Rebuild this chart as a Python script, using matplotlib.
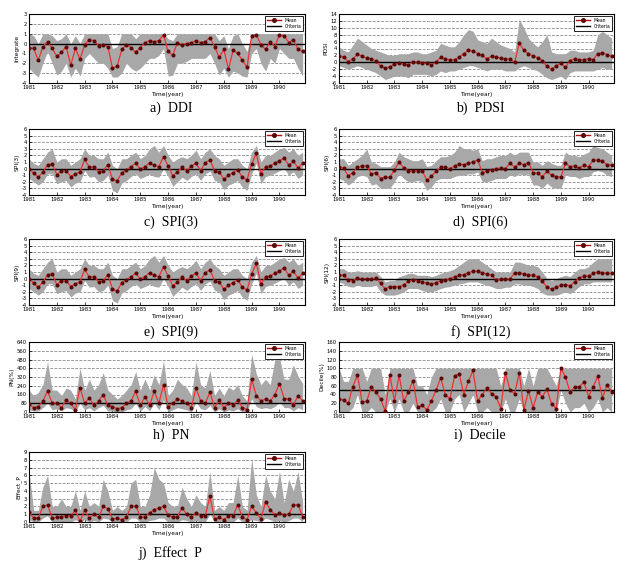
import numpy as np
import matplotlib
matplotlib.use("Agg")
import matplotlib.pyplot as plt
from matplotlib.lines import Line2D

plt.rcParams['font.family'] = 'DejaVu Sans'
plt.rcParams['axes.linewidth'] = 0.8

# bimonthly time stamps, Jan 1981 .. Nov 1990
years = 1981 + np.arange(60) / 6.0
year_ticks = list(range(1981, 1991))

# ---- a) DDI ----
ddi_mean = [-0.4, -0.5, -1.7, -0.3, 0.2, -0.5,
            -1.3, -0.9, -0.3, -2.2, -0.5, -1.6,
            -0.1, 0.4, 0.3, -0.2, -0.1, -0.3,
            -2.5, -2.3, -0.6, -0.1, -0.4, -0.9,
            -0.4, 0.1, 0.3, 0.2, 0.3, 0.9,
            -0.8, -1.2, 0.1, -0.1, 0.0, 0.1,
            0.3, 0.1, 0.2, 0.6, -0.3, -1.4,
            -0.6, -2.6, -0.7, -1.0, -1.7, -2.4,
            0.8, 0.9, -0.1, -0.6, 0.2, -0.3,
            0.9, 0.8, 0.1, 0.4, -0.6, -0.8]
ddi_hi = [1.0, 0.8, 0.0, 1.0, 1.0, 0.8,
          0.3, 0.5, 1.0, 0.0, 0.8, 0.0,
          1.0, 1.0, 1.0, 1.0, 1.0, 1.0,
          -0.5, -0.3, 1.0, 1.0, 1.0, 0.5,
          1.0, 1.0, 1.0, 1.0, 1.0, 1.0,
          0.5, 0.3, 1.0, 1.0, 1.0, 1.0,
          1.0, 1.0, 1.0, 1.0, 1.0, 0.3,
          0.8, -0.5, 0.8, 1.0, 0.0, -0.8,
          1.0, 1.0, 1.0, 1.0, 1.0, 1.0,
          1.0, 1.0, 1.0, 1.0, 1.0, 1.0]
ddi_lo = [-2.5, -3.0, -3.4, -2.0, -0.8, -2.0,
          -3.2, -2.8, -2.0, -3.4, -2.5, -3.3,
          -1.5, -1.0, -1.5, -2.0, -2.0, -2.5,
          -3.4, -3.4, -3.0, -2.0, -2.5, -2.8,
          -2.5, -2.0, -1.5, -1.5, -1.2, -0.5,
          -3.3, -3.2, -2.0, -2.0, -1.8, -1.5,
          -1.5, -1.5, -1.5, -1.0, -2.0, -3.2,
          -2.5, -3.4, -2.8, -3.0, -3.3, -3.4,
          -1.0, -0.5, -2.0, -2.8, -1.5, -2.0,
          -0.5, -1.0, -1.5, -1.5, -2.5, -3.3]

# ---- b) PDSI ----
pdsi_mean = [1.8, 1.5, 0.2, 1.0, 2.3, 1.8,
             1.2, 1.0, 0.3, -1.0, -1.7, -1.3,
             -0.5, -0.3, -0.5, -0.8, 0.2, 0.0,
             -0.2, -0.3, -0.7, 0.0, 1.5, 1.0,
             0.7, 0.8, 1.5, 2.5, 3.5, 3.3,
             2.5, 2.0, 1.0, 1.8, 1.5, 1.2,
             1.0, 0.9, 0.0, 5.5, 3.5, 2.5,
             1.8, 1.3, 0.5, -1.2, -2.0, -1.0,
             -0.3, -1.5, 0.5, 1.0, 0.7, 0.8,
             1.0, 0.8, 2.5, 2.8, 2.2, 1.7]
pdsi_hi = [4.5, 3.5, 3.0, 5.0, 7.0, 6.0,
           5.0, 4.0, 3.5, 3.0, 2.5, 2.0,
           2.0, 2.5, 2.5, 2.5, 3.0, 3.0,
           2.5, 2.5, 3.0, 3.5, 5.5, 5.0,
           4.5, 4.5, 6.0, 8.0, 9.5, 9.0,
           6.5, 6.0, 5.5, 7.0, 6.0, 5.0,
           4.5, 4.0, 3.0, 12.5, 10.0, 7.0,
           5.5, 4.5, 6.0, 8.0, 3.0, 2.5,
           2.5, 2.5, 3.5, 3.5, 3.0, 3.0,
           3.0, 3.5, 8.0, 9.0, 8.0, 7.0]
pdsi_lo = [-1.0, -1.5, -2.0, -1.5, -1.0, -1.5,
           -2.0, -2.5, -3.0, -4.0, -5.0, -4.5,
           -4.0, -4.0, -4.0, -4.5, -3.5, -3.5,
           -3.5, -3.5, -4.0, -3.5, -2.5, -3.0,
           -2.5, -2.5, -2.0, -1.5, -1.0, -1.0,
           -1.5, -2.0, -2.5, -2.0, -2.0, -2.0,
           -2.5, -2.5, -2.5, -1.5, -1.0, -1.5,
           -2.0, -2.5, -3.5, -4.5, -5.0, -4.5,
           -4.0, -5.0, -3.0, -2.5, -2.5, -2.5,
           -2.5, -2.5, -2.0, -1.5, -2.0, -2.0]

# ---- c) SPI(3) ----
spi3_mean = [0.0, -0.7, -1.3, -0.5, 0.6, 0.7,
             -0.9, -0.4, -0.3, -1.2, -0.8, -0.5,
             1.4, 0.2, 0.3, -0.5, -0.3, 0.6,
             -1.6, -1.9, -0.6, -0.2, 0.3, 0.8,
             -0.1, 0.3, 0.9, 0.5, 0.3, 1.8,
             0.4, -1.1, -0.5, 0.2, -0.3, 0.4,
             0.8, -0.3, 0.9, 1.3, -0.3, -0.5,
             -1.6, -1.0, -0.6, -0.2, -1.3, -1.7,
             0.7, 2.3, -0.8, 0.3, 0.4, 0.8,
             1.2, 1.6, 0.5, 1.1, 0.1, 0.8]
spi3_hi = [1.5, 0.8, 0.5, 1.5, 2.5, 3.0,
           1.0, 1.5, 1.5, 0.5, 1.0, 1.5,
           3.0, 2.0, 2.0, 1.5, 1.5, 2.5,
           0.5, 0.0, 1.5, 1.5, 2.0, 2.5,
           1.5, 2.0, 3.0, 3.5, 2.5, 3.5,
           2.0, 1.0, 1.5, 1.8, 1.5, 2.0,
           2.8, 1.5, 2.5, 3.0, 2.0, 1.5,
           0.5, 1.0, 1.5, 1.5, 0.5, 0.0,
           2.5, 3.5, 1.0, 2.0, 2.0, 2.5,
           3.0, 3.2, 2.5, 3.0, 2.0, 2.5]
spi3_lo = [-1.5, -2.0, -2.5, -2.0, -0.8, -0.8,
           -2.3, -2.0, -1.8, -2.8, -2.2, -2.0,
           -0.3, -1.3, -1.2, -2.0, -1.8, -1.0,
           -3.3, -3.7, -2.2, -1.8, -1.2, -0.8,
           -1.5, -1.2, -0.8, -1.2, -1.3, 0.0,
           -1.2, -2.7, -2.0, -1.3, -1.8, -1.2,
           -0.8, -1.8, -0.8, -0.4, -1.8, -2.0,
           -3.2, -2.5, -2.2, -1.8, -2.8, -3.3,
           -0.8, 0.8, -2.3, -1.2, -1.0, -0.7,
           -0.3, 0.0, -1.0, -0.5, -1.5, -1.0]

# ---- d) SPI(6) ----
spi6_mean = [0.2, 0.1, -1.1, -0.6, 0.2, 0.4,
             0.4, -0.8, -0.6, -1.5, -1.3, -1.3,
             -0.2, 1.0, 0.1, -0.3, -0.3, -0.3,
             -0.3, -1.8, -1.1, -0.4, 0.2, 0.2,
             0.0, 0.4, 0.7, 0.6, 0.8, 1.0,
             1.3, -0.6, -0.4, -0.2, 0.0, 0.1,
             0.0, 0.8, 0.2, 0.8, 0.6, 0.9,
             -0.6, -0.7, -1.2, -0.4, -1.0, -1.2,
             -1.3, 0.8, 0.3, 0.4, 0.1, 0.5,
             0.3, 1.3, 1.3, 1.1, 0.6, 0.5]
spi6_hi = [1.5, 1.5, 0.5, 1.0, 1.5, 2.0,
           3.0, 1.0, 0.8, 0.3, 0.3, 0.3,
           1.0, 2.5, 1.8, 1.5, 1.2, 1.2,
           1.5, 0.3, 0.5, 1.2, 1.8, 1.8,
           2.0, 2.5, 3.5, 3.0, 3.0, 2.8,
           3.0, 1.2, 1.5, 1.5, 1.8, 2.0,
           2.0, 2.5, 2.0, 2.5, 2.5, 2.5,
           1.0, 1.0, 0.5, 1.2, 0.8, 0.5,
           0.5, 2.5, 2.0, 2.0, 1.8, 2.2,
           2.5, 3.5, 3.2, 3.0, 2.5, 2.0]
spi6_lo = [-1.5, -1.8, -2.5, -2.0, -1.2, -1.0,
           -1.2, -2.5, -2.3, -3.0, -3.0, -3.0,
           -2.0, -0.8, -1.5, -2.0, -2.0, -1.8,
           -2.0, -3.3, -2.8, -1.8, -1.5, -1.5,
           -1.5, -1.2, -1.0, -1.0, -0.8, -0.8,
           -0.5, -2.0, -2.0, -1.8, -1.5, -1.5,
           -1.5, -1.0, -1.2, -0.8, -1.0, -0.8,
           -2.5, -2.5, -3.0, -2.2, -2.8, -3.0,
           -3.0, -1.0, -1.2, -1.2, -1.5, -1.2,
           -1.2, -0.5, -0.3, -0.5, -1.0, -1.2]

# ---- e) SPI(9): the source figure shows the same curves as panel c ----
spi9_mean = list(spi3_mean)
spi9_hi = list(spi3_hi)
spi9_lo = list(spi3_lo)

# ---- f) SPI(12) ----
spi12_mean = [0.5, 0.5, -0.2, -0.3, 0.1, 0.0,
              0.0, 0.0, 0.1, -0.7, -1.6, -1.2,
              -1.2, -1.2, -1.0, -0.4, -0.2, -0.3,
              -0.5, -0.7, -0.8, -0.6, -0.3, -0.2,
              0.0, 0.3, 0.5, 0.6, 0.9, 1.1,
              1.1, 0.9, 0.7, 0.5, -0.2, -0.1,
              0.0, -0.1, 0.9, 0.9, 0.7, 0.6,
              0.5, 0.3, -0.4, -1.3, -1.6, -1.3,
              -1.0, -0.9, -1.1, -0.5, 0.1, 0.4,
              0.4, 0.8, 1.0, 0.9, 0.8, 0.8]
spi12_hi = [1.5, 1.5, 1.0, 1.0, 1.2, 1.0,
            1.0, 1.0, 1.0, 0.3, -0.5, -0.3,
            -0.3, 0.3, 0.5, 0.8, 0.8, 0.5,
            0.5, 0.5, 0.3, 0.5, 0.8, 1.0,
            1.2, 1.5, 2.0, 2.5, 3.0, 3.0,
            3.0, 2.5, 2.0, 1.5, 1.0, 1.0,
            1.0, 1.0, 2.5, 2.5, 2.3, 2.0,
            2.0, 1.8, 1.0, 0.0, -0.3, 0.0,
            0.3, 0.5, 0.3, 1.0, 1.5, 1.5,
            1.8, 2.5, 3.0, 3.0, 3.0, 3.0]
spi12_lo = [-0.5, -0.8, -1.2, -1.3, -1.0, -1.2,
            -1.2, -1.2, -1.0, -2.0, -2.5, -2.5,
            -2.5, -2.3, -2.0, -1.5, -1.5, -1.5,
            -1.8, -2.0, -2.0, -1.8, -1.5, -1.3,
            -1.2, -1.0, -0.8, -0.7, -0.5, -0.5,
            -0.5, -0.8, -1.0, -1.2, -1.5, -1.5,
            -1.3, -1.3, -0.8, -0.8, -1.0, -1.0,
            -1.2, -1.5, -2.2, -2.5, -2.5, -2.5,
            -2.3, -2.0, -2.3, -1.8, -1.2, -0.8,
            -0.8, -0.5, -0.5, -0.5, -0.5, -0.5]

# ---- h) PN (%) ----
pn_mean = [70, 40, 50, 100, 190, 80,
           80, 40, 110, 80, 20, 220,
           80, 130, 60, 100, 160, 60,
           50, 30, 40, 80, 100, 190,
           60, 140, 60, 190, 80, 250,
           50, 80, 120, 100, 80, 40,
           220, 100, 80, 180, 40, 110,
           40, 80, 60, 110, 40, 20,
           300, 150, 100, 120, 100, 160,
           260, 120, 120, 60, 150, 100]
pn_hi = [200, 150, 180, 250, 460, 200,
         200, 150, 220, 200, 120, 400,
         200, 300, 200, 250, 360, 200,
         160, 120, 150, 200, 250, 370,
         200, 300, 200, 340, 250, 470,
         150, 200, 300, 250, 220, 150,
         460, 250, 220, 380, 150, 220,
         150, 230, 200, 250, 150, 100,
         530, 350, 250, 300, 250, 480,
         500, 300, 300, 430, 330, 260]
pn_lo = [20, 10, 10, 40, 80, 20,
         30, 10, 40, 30, 0, 80,
         20, 40, 10, 40, 60, 10,
         10, 0, 0, 20, 30, 80,
         10, 50, 10, 80, 20, 110,
         0, 20, 40, 30, 20, 0,
         90, 30, 20, 60, 0, 30,
         0, 20, 10, 30, 0, 0,
         120, 50, 30, 40, 30, 50,
         90, 40, 40, 10, 40, 20]

# ---- i) Decile (%) ----
dec_mean = [30, 27, 20, 58, 85, 22,
            25, 58, 45, 30, 2, 85,
            25, 84, 25, 45, 72, 12,
            15, 5, 25, 50, 78, 40,
            30, 82, 88, 40, 70, 95,
            25, 40, 55, 42, 35, 8,
            90, 50, 42, 90, 5, 48,
            10, 45, 35, 52, 18, 8,
            100, 80, 45, 58, 58, 68,
            35, 58, 82, 32, 62, 45]
dec_hi = [100, 70, 70, 100, 100, 100,
          70, 100, 100, 100, 40, 100,
          100, 100, 100, 100, 100, 60,
          60, 40, 80, 100, 100, 100,
          100, 100, 100, 100, 100, 100,
          100, 100, 100, 100, 100, 60,
          100, 100, 100, 100, 60, 100,
          60, 100, 100, 100, 80, 60,
          100, 100, 100, 100, 100, 100,
          100, 100, 100, 100, 100, 100]
dec_lo = [0, 0, 0, 10, 40, 0,
          0, 10, 0, 0, 0, 30,
          0, 30, 0, 0, 20, 0,
          0, 0, 0, 10, 30, 0,
          0, 30, 40, 0, 20, 40,
          0, 0, 10, 0, 0, 0,
          30, 0, 0, 30, 0, 0,
          0, 0, 0, 0, 0, 0,
          50, 20, 0, 10, 10, 20,
          0, 10, 30, 0, 10, 0]

# ---- j) Effect P ----
ep_mean = [1.3, 0.5, 0.5, 2.0, 2.2, 0.5,
           0.6, 0.7, 0.8, 0.8, 1.5, 0.1,
           1.5, 0.5, 1.0, 0.6, 2.0, 1.7,
           0.4, 0.5, 0.3, 0.6, 2.0, 2.1,
           0.7, 0.6, 1.2, 1.6, 1.8, 2.0,
           0.9, 0.6, 0.7, 1.8, 1.0, 0.6,
           1.2, 0.8, 0.8, 3.3, 0.4, 0.6,
           0.3, 0.8, 0.8, 2.2, 0.6, 0.3,
           2.0, 1.2, 0.4, 2.6, 1.6, 0.9,
           1.2, 0.9, 1.0, 2.2, 2.2, 0.7]
ep_hi = [6.5, 1.5, 1.5, 4.5, 6.0, 2.0,
         2.0, 3.0, 2.0, 2.0, 4.0, 1.5,
         4.0, 2.0, 2.5, 2.0, 5.5, 4.0,
         1.5, 2.0, 1.5, 2.0, 5.0, 5.5,
         2.0, 2.0, 3.5, 7.0, 5.5, 5.0,
         2.5, 2.0, 2.0, 4.5, 3.0, 2.0,
         3.5, 2.5, 2.0, 6.5, 1.5, 2.0,
         1.5, 2.5, 2.5, 6.0, 2.0, 1.5,
         8.2, 3.5, 2.0, 6.0, 4.0, 3.0,
         6.5, 2.5, 5.5, 4.0, 6.5, 2.5]
ep_lo = [0.3, 0.0, 0.0, 0.5, 0.8, 0.0,
         0.0, 0.0, 0.0, 0.0, 0.3, 0.0,
         0.3, 0.0, 0.2, 0.0, 0.5, 0.4,
         0.0, 0.0, 0.0, 0.0, 0.5, 0.5,
         0.0, 0.0, 0.2, 0.3, 0.5, 0.5,
         0.0, 0.0, 0.0, 0.3, 0.2, 0.0,
         0.2, 0.0, 0.0, 1.0, 0.0, 0.0,
         0.0, 0.0, 0.0, 0.5, 0.0, 0.0,
         0.3, 0.2, 0.0, 0.5, 0.3, 0.0,
         0.2, 0.0, 0.2, 0.5, 0.5, 0.0]

# panel: (mean, hi, lo, ymin, ymax, ystep, ylabel, criteria, caption)
panels = [
    (ddi_mean, ddi_hi, ddi_lo, -4, 3, 1, "Integrate", 0, "a)  DDI"),
    (pdsi_mean, pdsi_hi, pdsi_lo, -6, 14, 2, "PDSI", 0, "b)  PDSI"),
    (spi3_mean, spi3_hi, spi3_lo, -4, 6, 1, "SPI(3)", 0, "c)  SPI(3)"),
    (spi6_mean, spi6_hi, spi6_lo, -4, 6, 1, "SPI(6)", 0, "d)  SPI(6)"),
    (spi9_mean, spi9_hi, spi9_lo, -4, 6, 1, "SPI(9)", 0, "e)  SPI(9)"),
    (spi12_mean, spi12_hi, spi12_lo, -4, 6, 1, "SPI(12)", 0, "f)  SPI(12)"),
    (pn_mean, pn_hi, pn_lo, 0, 640, 80, "PN(%)", 80, "h)  PN"),
    (dec_mean, dec_hi, dec_lo, 0, 160, 20, "Decile(%)", 50, "i)  Decile"),
    (ep_mean, ep_hi, ep_lo, 0, 9, 1, "Effect_P", 1, "j)  Effect  P"),
]

# axes boxes in pixels (left, top, right, bottom) of a 627x565 figure
W, H = 627, 565
col_x = [(29, 305), (339, 614)]
row_y = [(14, 83), (129, 195), (239, 305), (342, 412), (452, 522)]
caption_y = [108, 222, 332, 435, 553]

c_grey = "#a8a8a8"
c_mean = "#f03030"
c_mark = "#5a0808"

fig = plt.figure(figsize=(W / 100, H / 100), dpi=100)

for k, (mean, hi, lo, ymin, ymax, ystep, ylab, crit, cap) in enumerate(panels):
    r, c = divmod(k, 2)
    x0, x1 = col_x[c]
    y0, y1 = row_y[r]
    ax = fig.add_axes([x0 / W, 1 - y1 / H, (x1 - x0) / W, (y1 - y0) / H])
    ax.set_axisbelow(True)

    ax.fill_between(years, lo, hi, color=c_grey, linewidth=0, zorder=1)
    ax.axhline(crit, color="black", linewidth=1.0, zorder=2)
    ax.plot(years, mean, color=c_mean, linewidth=0.9, zorder=3)
    ax.plot(years, mean, linestyle="none", marker="o", markersize=1.9,
            markerfacecolor=c_mark, markeredgecolor=c_mark, zorder=4)

    yt = np.arange(ymin, ymax + ystep / 2, ystep)
    ax.set_yticks(yt)
    ax.set_yticklabels([f"{v:g}" for v in yt], fontsize=3.8)
    ax.set_ylim(ymin, ymax)
    ax.yaxis.grid(True, color="#707070", linestyle=(0, (4, 2)), linewidth=0.5)

    ax.set_xticks(year_ticks)
    ax.set_xticklabels([str(y) for y in year_ticks], fontsize=3.8)
    ax.set_xlim(1981, 1990 + 11 / 12)
    ax.tick_params(direction="in", length=2, width=0.5, pad=1.5)
    ax.set_xlabel("Time(year)", fontsize=4.2, labelpad=1.5)
    ax.set_ylabel(ylab, fontsize=4.2, labelpad=1.5)

    handles = [Line2D([], [], color="#b01010", linewidth=1.0, marker="o",
                      markersize=2.6, markerfacecolor=c_mark, markeredgecolor=c_mark),
               Line2D([], [], color="black", linewidth=1.0)]
    leg = ax.legend(handles, ["Mean", "Criteria"], loc="upper right", fontsize=3.3,
                    frameon=True, fancybox=False, edgecolor="black", framealpha=1,
                    handlelength=3, borderpad=0.4, labelspacing=0.3, borderaxespad=0.4)
    leg.get_frame().set_linewidth(0.6)

    fig.text((x0 + x1) / 2 / W + 0.006, 1 - caption_y[r] / H, cap,
             ha="center", va="center", fontsize=10, family="Liberation Serif")

fig.savefig("out.png", dpi=100)
